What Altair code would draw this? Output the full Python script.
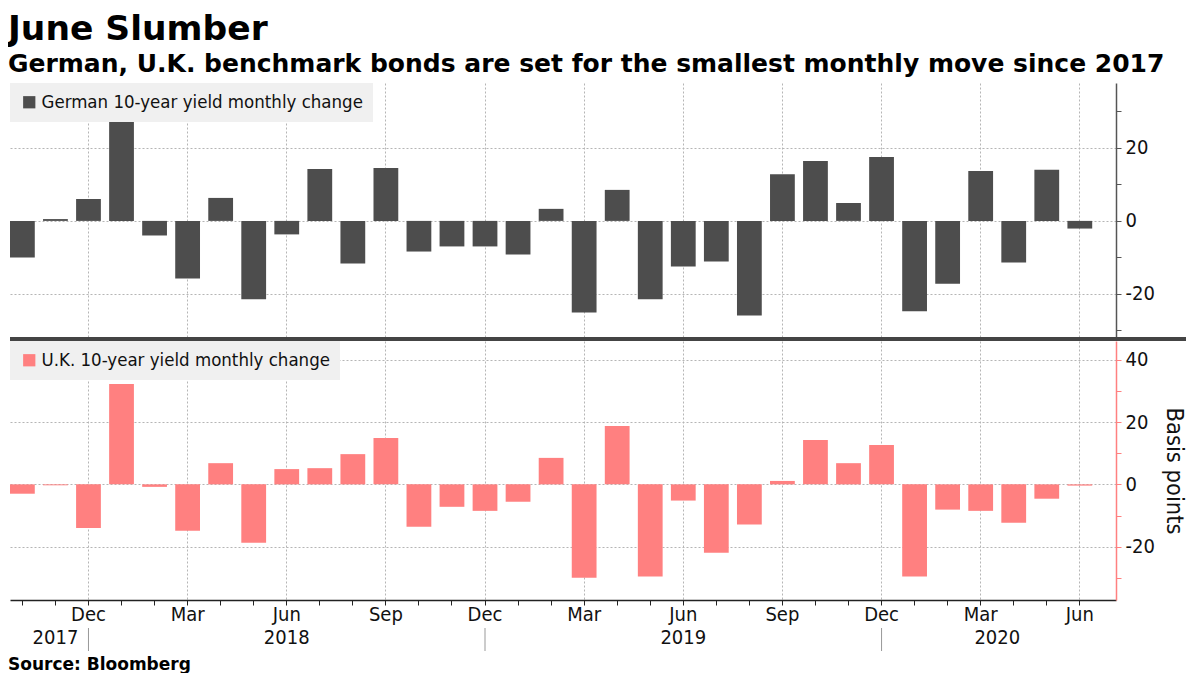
import altair as alt
import pandas as pd

months = ["2017-10", "2017-11", "2017-12",
          "2018-01", "2018-02", "2018-03", "2018-04", "2018-05", "2018-06",
          "2018-07", "2018-08", "2018-09", "2018-10", "2018-11", "2018-12",
          "2019-01", "2019-02", "2019-03", "2019-04", "2019-05", "2019-06",
          "2019-07", "2019-08", "2019-09", "2019-10", "2019-11", "2019-12",
          "2020-01", "2020-02", "2020-03", "2020-04", "2020-05", "2020-06"]

german = [-10.0, 0.5, 6.0, 27.1, -4.0, -15.8, 6.3, -21.5, -3.7, 14.2, -11.7, 14.5,
          -8.4, -7.0, -7.0, -9.2, 3.3, -25.1, 8.5, -21.5, -12.5, -11.1, -25.9, 12.8,
          16.4, 4.9, 17.5, -24.8, -17.2, 13.7, -11.4, 14.0, -2.1]

uk = [-3.0, -0.3, -14.0, 32.2, -0.8, -14.9, 6.8, -18.7, 4.9, 5.2, 9.7, 14.9,
      -13.6, -7.2, -8.5, -5.6, 8.5, -30.0, 18.7, -29.6, -5.2, -21.9, -12.9, 1.1,
      14.2, 6.8, 12.6, -29.6, -8.1, -8.5, -12.3, -4.6, -0.4]

year_labels = ["2017", "2018", "2019"]
year_label_month = ["2017-11", "2018-06", "2019-06"]
last_year_label = ["2020"]
last_year_month = ["2020-03"]
year_breaks = ["2017-12", "2018-12", "2019-12"]

german_name = "German 10-year yield monthly change"
uk_name = "U.K. 10-year yield monthly change"

W = 1106
H1 = 255
H2 = 259
FONT = "DejaVu Sans Condensed"
BOLD = "DejaVu Sans"

df = pd.DataFrame({"month": months, "german": german, "uk": uk,
                   "g": german_name, "u": uk_name})
years_df = pd.DataFrame({"month": year_label_month, "year": year_labels})
last_df = pd.DataFrame({"month": last_year_month, "year": last_year_label})
breaks_df = pd.DataFrame({"month": year_breaks})
source_df = pd.DataFrame({"t": ["Source: Bloomberg"]})
sep_df = pd.DataFrame({"t": ["sep"]})

xscale = alt.Scale(domain=months, paddingInner=0.25, paddingOuter=0.36, align=0)
mexpr = "substring(datum.value, 5, 7)"
quarter_test = f"indexof(['12','03','06','09'], {mexpr}) >= 0"
grid_x = {"condition": {"test": quarter_test, "value": 1}, "value": 0}
grid_y = {"condition": {"test": "datum.value % 20 === 0", "value": 1}, "value": 0}
ylab = "datum.value % 20 === 0 ? '' + datum.value : ''"
month_label = (f"{mexpr} == '12' ? 'Dec' : {mexpr} == '03' ? 'Mar' : "
               f"{mexpr} == '06' ? 'Jun' : {mexpr} == '09' ? 'Sep' : ''")

legend_common = dict(title=None, orient="top-left", offset=0, fillColor="#f0f0f0",
                     padding=10, symbolType="square", symbolSize=150,
                     symbolStrokeWidth=0, labelFontSize=18.5, labelFont=FONT,
                     labelColor="#111", labelLimit=500, labelOffset=3)

# ---- top panel (German) ----
top_bars = alt.Chart(df).mark_bar().encode(
    x=alt.X("month:N", scale=xscale, sort=months,
            axis=alt.Axis(title=None, labels=False, ticks=False, domain=False,
                          grid=True, gridDash=[2, 2], gridColor="#b5b5b5",
                          gridOpacity=grid_x, bandPosition=0.5)),
    y=alt.Y("german:Q", scale=alt.Scale(domain=[-32.1, 37.8], nice=False, zero=False),
            axis=alt.Axis(orient="right", title=None,
                          values=[-30, -20, -10, 0, 10, 20, 30], labelExpr=ylab,
                          grid=True, gridDash=[2, 2], gridColor="#b5b5b5",
                          gridOpacity=grid_y, domainColor="#555", domainWidth=1.5,
                          tickColor="#555", tickSize=5, labelFontSize=20,
                          labelFont=FONT, labelColor="#111", labelPadding=4)),
    color=alt.Color("g:N", scale=alt.Scale(domain=[german_name], range=["#4d4d4d"]),
                    legend=alt.Legend(**legend_common)),
)
separator = alt.Chart(sep_df).mark_rule(color="#444", strokeWidth=4).encode(
    x=alt.value(0), x2=alt.value(W + 70), y=alt.value(H1 + 1))
top = alt.layer(top_bars, separator).properties(width=W, height=H1)

# ---- bottom panel (UK) ----
bot_bars = alt.Chart(df).mark_bar().encode(
    x=alt.X("month:N", scale=xscale, sort=months,
            axis=alt.Axis(title=None, labelExpr=month_label, labelOverlap=False,
                          labelFontSize=20, labelFont=FONT, labelColor="#111",
                          labelPadding=-1, labelAngle=0,
                          ticks=True, tickSize=5, tickColor="#222", bandPosition=0.5,
                          domain=True, domainColor="#222", domainWidth=1.5,
                          grid=True, gridDash=[2, 2], gridColor="#b5b5b5",
                          gridOpacity=grid_x)),
    y=alt.Y("uk:Q", scale=alt.Scale(domain=[-37.1, 46.0], nice=False, zero=False),
            axis=alt.Axis(orient="right", title="Basis points",
                          values=[-30, -20, -10, 0, 10, 20, 30, 40], labelExpr=ylab,
                          grid=True, gridDash=[2, 2], gridColor="#b5b5b5",
                          gridOpacity=grid_y, domainColor="#ff8080", domainWidth=1.5,
                          tickColor="#ff8080", tickSize=5, labelFontSize=20,
                          labelFont=FONT, labelColor="#111", labelPadding=4,
                          titleFont=FONT, titleFontSize=23.5, titleFontWeight="normal",
                          titleColor="#111", titlePadding=7)),
    color=alt.Color("u:N", scale=alt.Scale(domain=[uk_name], range=["#ff8080"]),
                    legend=alt.Legend(**legend_common)),
)
year_text = alt.Chart(years_df).mark_text(
    fontSize=20, font=FONT, color="#111", baseline="middle").encode(
    x=alt.X("month:N", scale=xscale, sort=months, bandPosition=0.5),
    y=alt.value(H2 + 38), text="year:N")
last_text = alt.Chart(last_df).mark_text(
    fontSize=20, font=FONT, color="#111", baseline="middle", dx=16.6).encode(
    x=alt.X("month:N", scale=xscale, sort=months, bandPosition=0.5),
    y=alt.value(H2 + 38), text="year:N")
year_rules = alt.Chart(breaks_df).mark_rule(color="#999", strokeWidth=1).encode(
    x=alt.X("month:N", scale=xscale, sort=months, bandPosition=0.5),
    y=alt.value(H2 + 28), y2=alt.value(H2 + 51))
source = alt.Chart(source_df).mark_text(
    fontSize=17, font=BOLD, fontWeight="bold", color="#000", align="left",
    baseline="alphabetic").encode(
    x=alt.value(-2), y=alt.value(H2 + 70), text="t:N")
bottom = alt.layer(bot_bars, year_text, last_text, year_rules, source).properties(
    width=W, height=H2)

chart = alt.vconcat(top, bottom, spacing=0).resolve_scale(
    color="independent", y="independent"
).properties(
    padding={"left": 0, "top": 3, "right": 0, "bottom": 0},
    title=alt.TitleParams(
        "June Slumber",
        subtitle=["German, U.K. benchmark bonds are set for the smallest monthly move since 2017"],
        anchor="start", font=BOLD, fontSize=34.5, fontWeight="bold", color="#000",
        subtitleFont=BOLD, subtitleFontSize=25, subtitleFontWeight="bold",
        subtitleColor="#000", subtitlePadding=5, offset=5),
).configure_view(stroke=None).configure_concat(spacing=0)

chart.save("out.html", embed_options={"renderer": "svg", "actions": False})
